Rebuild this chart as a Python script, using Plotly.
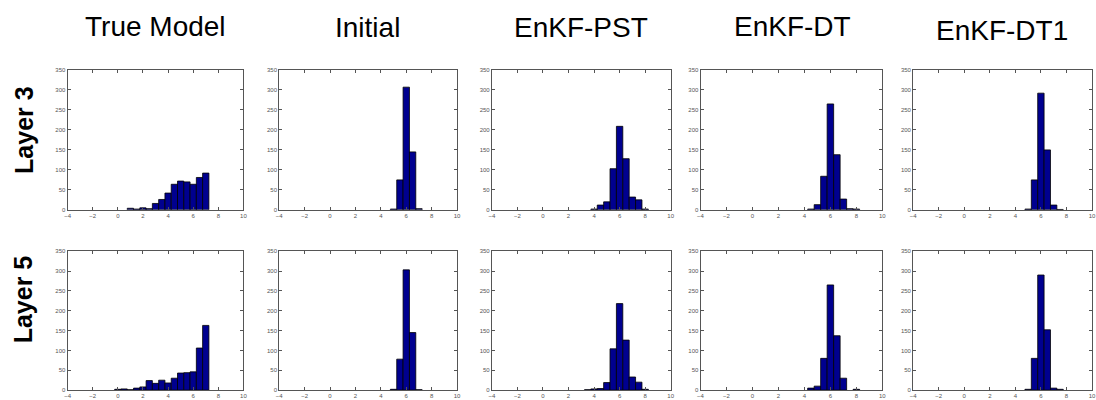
import plotly.graph_objects as go

# ---------------- data ----------------
panel_titles = ["True Model", "Initial", "EnKF-PST", "EnKF-DT", "EnKF-DT1"]
row_labels = ["Layer 3", "Layer 5"]

# Layer 3 (top row): bin centres and counts
l3_true_x = [1.0, 1.5, 2.0, 2.5, 3.0, 3.5, 4.0, 4.5, 5.0, 5.5, 6.0, 6.5, 7.0]
l3_true_y = [4, 2, 5, 3, 16, 26, 42, 64, 72, 70, 64, 81, 92]
l3_init_x = [5.0, 5.5, 6.0, 6.5, 7.0]
l3_init_y = [2, 75, 307, 145, 3]
l3_pst_x = [4.0, 4.5, 5.0, 5.5, 6.0, 6.5, 7.0, 7.5, 8.0]
l3_pst_y = [2, 12, 20, 103, 209, 128, 32, 25, 2]
l3_dt_x = [4.5, 5.0, 5.5, 6.0, 6.5, 7.0, 7.5, 8.0]
l3_dt_y = [2, 13, 84, 265, 138, 27, 3, 2]
l3_dt1_x = [5.0, 5.5, 6.0, 6.5, 7.0, 7.5]
l3_dt1_y = [2, 75, 292, 150, 12, 1]

# Layer 5 (bottom row)
l5_true_x = [0.0, 0.5, 1.0, 1.5, 2.0, 2.5, 3.0, 3.5, 4.0, 4.5, 5.0, 5.5, 6.0, 6.5, 7.0]
l5_true_y = [2, 3, 1, 5, 8, 24, 17, 25, 18, 30, 43, 44, 46, 106, 163]
l5_init_x = [5.0, 5.5, 6.0, 6.5, 7.0]
l5_init_y = [2, 78, 303, 145, 1]
l5_pst_x = [3.5, 4.0, 4.5, 5.0, 5.5, 6.0, 6.5, 7.0, 7.5, 8.0]
l5_pst_y = [1, 3, 4, 19, 104, 218, 126, 33, 20, 2]
l5_dt_x = [4.5, 5.0, 5.5, 6.0, 6.5, 7.0, 8.0]
l5_dt_y = [5, 10, 80, 265, 137, 30, 2]
l5_dt1_x = [5.0, 5.5, 6.0, 6.5, 7.0, 7.5]
l5_dt1_y = [2, 80, 290, 152, 5, 2]

x_ticks = [-4, -2, 0, 2, 4, 6, 8, 10]
y_ticks = [0, 50, 100, 150, 200, 250, 300, 350]

rows = [
    [(l3_true_x, l3_true_y), (l3_init_x, l3_init_y), (l3_pst_x, l3_pst_y),
     (l3_dt_x, l3_dt_y), (l3_dt1_x, l3_dt1_y)],
    [(l5_true_x, l5_true_y), (l5_init_x, l5_init_y), (l5_pst_x, l5_pst_y),
     (l5_dt_x, l5_dt_y), (l5_dt1_x, l5_dt1_y)],
]

# ---------------- layout geometry ----------------
W, H = 1096, 400
col_px = [(65, 242), (278, 457), (492, 672), (702, 885), (916, 1096)]
row_px = [(68, 210), (252, 393)]
title_x_px = [153, 367, 582, 795, 1005]
title_y_px = [24, 25, 25, 24, 28]
label_y_px = [129, 301]

fig = go.Figure()
layout = dict(
    width=W, height=H, margin=dict(l=0, r=0, t=0, b=0),
    paper_bgcolor="white", plot_bgcolor="white", showlegend=False,
    annotations=[],
)

axis_common = dict(
    showline=True, linecolor="#555555", linewidth=1, mirror="ticks",
    ticks="inside", ticklen=3, tickcolor="#555555", showgrid=False,
    zeroline=False, tickfont=dict(family="Liberation Sans", size=6, color="#555555"),
    fixedrange=True,
)

n = 0
for r, row in enumerate(rows):
    for c, (xs, ys) in enumerate(row):
        n += 1
        xa = "x" if n == 1 else f"x{n}"
        ya = "y" if n == 1 else f"y{n}"
        fig.add_trace(go.Bar(
            x=xs, y=ys, width=0.5, xaxis=xa, yaxis=ya,
            marker=dict(color="#00008F", line=dict(color="#000000", width=0.8)),
        ))
        x0, x1 = col_px[c]
        y0, y1 = row_px[r]
        layout["xaxis" if n == 1 else f"xaxis{n}"] = dict(
            axis_common, domain=[x0 / W, x1 / W], range=[-4, 10],
            tickvals=x_ticks, anchor=ya,
        )
        layout["yaxis" if n == 1 else f"yaxis{n}"] = dict(
            axis_common, domain=[1 - y1 / H, 1 - y0 / H], range=[0, 350],
            tickvals=y_ticks, anchor=xa,
        )

for c, t in enumerate(panel_titles):
    layout["annotations"].append(dict(
        text=t, x=title_x_px[c] / W, y=1 - title_y_px[c] / H,
        xref="paper", yref="paper", xanchor="center", yanchor="middle",
        showarrow=False, font=dict(family="Liberation Sans", size=28, color="black"),
    ))
for r, t in enumerate(row_labels):
    layout["annotations"].append(dict(
        text=f"<b>{t}</b>", x=21 / W, y=1 - label_y_px[r] / H,
        xref="paper", yref="paper", xanchor="center", yanchor="middle",
        textangle=-90, showarrow=False,
        font=dict(family="Liberation Sans", size=25, color="black"),
    ))

fig.update_layout(**layout)
fig.write_html("out.html")
